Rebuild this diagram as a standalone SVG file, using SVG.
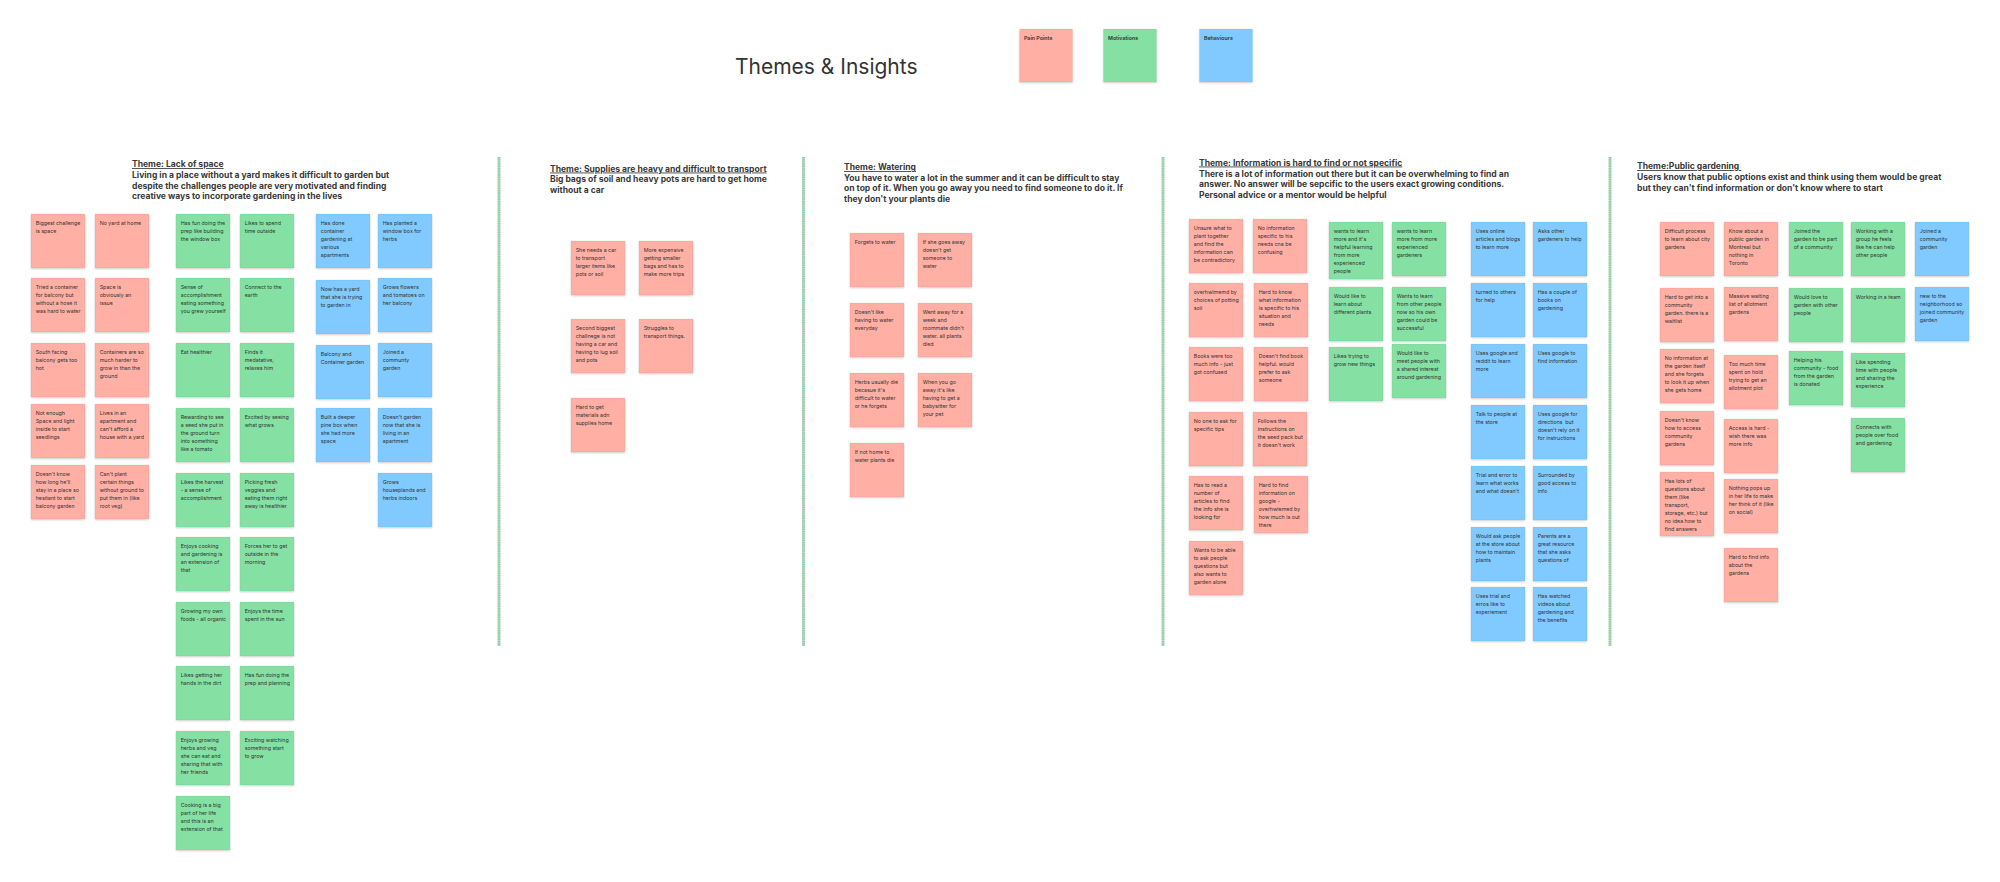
<svg xmlns="http://www.w3.org/2000/svg" width="2000" height="882" viewBox="0 0 2000 882">
<defs>
<filter id="sh" x="-10%" y="-10%" width="130%" height="130%"><feDropShadow dx="0" dy="1" stdDeviation="0.8" flood-color="#000" flood-opacity="0.18"/></filter>
<style>
.p{fill:#FFAFA3}.g{fill:#85E0A3}.b{fill:#80CAFF}
.n{filter:url(#sh);stroke:rgba(0,0,0,0.08);stroke-width:0.5}
.t{font-family:Inter,"Liberation Sans",sans-serif;font-size:5.3px;fill:#333}
.h{font-family:Inter,"Liberation Sans",sans-serif;font-size:8.55px;font-weight:700;fill:#3a3a3a}
.u{text-decoration:underline}
.lg{font-family:Inter,"Liberation Sans",sans-serif;font-size:5.3px;font-weight:600;fill:#333}
.sep{stroke:#7fd89a;stroke-width:2.6;stroke-dasharray:1.2 1}
.sepb{stroke:#c9cfcb;stroke-width:2.8}
</style>
</defs>
<rect width="2000" height="882" fill="#ffffff"/>
<text x="735" y="74" font-family="Inter,'Liberation Sans',sans-serif" font-size="21" fill="#333">Themes &amp; Insights</text>
<g id="legend-pain"><rect class="n p" x="1019.5" y="29" width="53" height="53"/><text class="lg" x="1024" y="39.5">Pain Points</text></g>
<g id="legend-motivations"><rect class="n g" x="1103.5" y="29" width="53" height="53"/><text class="lg" x="1108" y="39.5">Motivations</text></g>
<g id="legend-behaviours"><rect class="n b" x="1199.5" y="29" width="53" height="53"/><text class="lg" x="1204" y="39.5">Behaviours</text></g>
<g id="separators">
<line class="sepb" x1="499" y1="157" x2="499" y2="646"/><line class="sep" x1="499" y1="157" x2="499" y2="646"/>
<line class="sepb" x1="803.5" y1="157" x2="803.5" y2="646"/><line class="sep" x1="803.5" y1="157" x2="803.5" y2="646"/>
<line class="sepb" x1="1163" y1="157" x2="1163" y2="646"/><line class="sep" x1="1163" y1="157" x2="1163" y2="646"/>
<line class="sepb" x1="1610" y1="157" x2="1610" y2="646"/><line class="sep" x1="1610" y1="157" x2="1610" y2="646"/>
</g>
<g id="theme1-header"><text class="h"><tspan class="u" x="132" y="167">Theme: Lack of space</tspan><tspan x="132" y="178">Living in a place without a yard makes it difficult to garden but</tspan><tspan x="132" y="188.5">despite the challenges people are very motivated and finding</tspan><tspan x="132" y="199">creative ways to incorporate gardening in the lives</tspan></text></g>
<g id="theme2-header"><text class="h"><tspan class="u" x="550" y="171.5">Theme: Supplies are heavy and difficult to transport</tspan><tspan x="550" y="182.3">Big bags of soil and heavy pots are hard to get home</tspan><tspan x="550" y="193">without a car</tspan></text></g>
<g id="theme3-header"><text class="h"><tspan class="u" x="844" y="170">Theme: Watering</tspan><tspan x="844" y="180.5">You have to water a lot in the summer and it can be difficult to stay</tspan><tspan x="844" y="191">on top of it. When you go away you need to find someone to do it. If</tspan><tspan x="844" y="202">they don't your plants die</tspan></text></g>
<g id="theme4-header"><text class="h"><tspan class="u" x="1199" y="165.5">Theme: Information is hard to find or not specific</tspan><tspan x="1199" y="176.5">There is a lot of information out there but it can be overwhelming to find an</tspan><tspan x="1199" y="187">answer. No answer will be sepcific to the users exact growing conditions.</tspan><tspan x="1199" y="197.5">Personal advice or a mentor would be helpful</tspan></text></g>
<g id="theme5-header"><text class="h"><tspan class="u" x="1637" y="169">Theme:Public gardening </tspan><tspan x="1637" y="180">Users know that public options exist and think using them would be great</tspan><tspan x="1637" y="190.5">but they can't find information or don't know where to start</tspan></text></g>

<!-- Theme 1 notes -->
<g id="t1-p1" transform="translate(31,214)"><rect class="n p" width="54" height="54"/><text class="t"><tspan x="4.7" y="10.7">Biggest challenge</tspan><tspan x="4.7" dy="8">is space</tspan></text></g>
<g id="t1-p2" transform="translate(31,278)"><rect class="n p" width="54" height="54"/><text class="t"><tspan x="4.7" y="10.7">Tried a container</tspan><tspan x="4.7" dy="8">for balcony but</tspan><tspan x="4.7" dy="8">without a hose it</tspan><tspan x="4.7" dy="8">was hard to water</tspan></text></g>
<g id="t1-p3" transform="translate(31,343)"><rect class="n p" width="54" height="54"/><text class="t"><tspan x="4.7" y="10.7">South facing</tspan><tspan x="4.7" dy="8">balcony gets too</tspan><tspan x="4.7" dy="8">hot</tspan></text></g>
<g id="t1-p4" transform="translate(31,404)"><rect class="n p" width="54" height="54"/><text class="t"><tspan x="4.7" y="10.7">Not enough</tspan><tspan x="4.7" dy="8">Space and light</tspan><tspan x="4.7" dy="8">inside to start</tspan><tspan x="4.7" dy="8">seedlings</tspan></text></g>
<g id="t1-p5" transform="translate(31,465)"><rect class="n p" width="54" height="54"/><text class="t"><tspan x="4.7" y="10.7">Doesn't know</tspan><tspan x="4.7" dy="8">how long he'll</tspan><tspan x="4.7" dy="8">stay in a place so</tspan><tspan x="4.7" dy="8">hesitant to start</tspan><tspan x="4.7" dy="8">balcony garden</tspan></text></g>
<g id="t1-p6" transform="translate(95,214)"><rect class="n p" width="54" height="54"/><text class="t"><tspan x="4.7" y="10.7">No yard at home</tspan></text></g>
<g id="t1-p7" transform="translate(95,278)"><rect class="n p" width="54" height="54"/><text class="t"><tspan x="4.7" y="10.7">Space is</tspan><tspan x="4.7" dy="8">obviously an</tspan><tspan x="4.7" dy="8">issue</tspan></text></g>
<g id="t1-p8" transform="translate(95,343)"><rect class="n p" width="54" height="54"/><text class="t"><tspan x="4.7" y="10.7">Containers are so</tspan><tspan x="4.7" dy="8">much harder to</tspan><tspan x="4.7" dy="8">grow in than the</tspan><tspan x="4.7" dy="8">ground</tspan></text></g>
<g id="t1-p9" transform="translate(95,404)"><rect class="n p" width="54" height="54"/><text class="t"><tspan x="4.7" y="10.7">Lives in an</tspan><tspan x="4.7" dy="8">apartment and</tspan><tspan x="4.7" dy="8">can't afford a</tspan><tspan x="4.7" dy="8">house with a yard</tspan></text></g>
<g id="t1-p10" transform="translate(95,465)"><rect class="n p" width="54" height="54"/><text class="t"><tspan x="4.7" y="10.7">Can't plant</tspan><tspan x="4.7" dy="8">certain things</tspan><tspan x="4.7" dy="8">without ground to</tspan><tspan x="4.7" dy="8">put them in (like</tspan><tspan x="4.7" dy="8">root veg)</tspan></text></g>

<g id="t1-g1" transform="translate(176,214)"><rect class="n g" width="54" height="54"/><text class="t"><tspan x="4.7" y="10.7">Has fun doing the</tspan><tspan x="4.7" dy="8">prep like building</tspan><tspan x="4.7" dy="8">the window box</tspan></text></g>
<g id="t1-g2" transform="translate(176,278)"><rect class="n g" width="54" height="54"/><text class="t"><tspan x="4.7" y="10.7">Sense of</tspan><tspan x="4.7" dy="8">accomplishment</tspan><tspan x="4.7" dy="8">eating something</tspan><tspan x="4.7" dy="8">you grew yourself</tspan></text></g>
<g id="t1-g3" transform="translate(176,343)"><rect class="n g" width="54" height="54"/><text class="t"><tspan x="4.7" y="10.7">Eat healthier</tspan></text></g>
<g id="t1-g4" transform="translate(176,408)"><rect class="n g" width="54" height="54"/><text class="t"><tspan x="4.7" y="10.7">Rewarding to see</tspan><tspan x="4.7" dy="8">a seed she put in</tspan><tspan x="4.7" dy="8">the ground turn</tspan><tspan x="4.7" dy="8">into something</tspan><tspan x="4.7" dy="8">like a tomato</tspan></text></g>
<g id="t1-g5" transform="translate(176,473)"><rect class="n g" width="54" height="54"/><text class="t"><tspan x="4.7" y="10.7">Likes the harvest</tspan><tspan x="4.7" dy="8">- a sense of</tspan><tspan x="4.7" dy="8">accomplishment</tspan></text></g>
<g id="t1-g6" transform="translate(176,537)"><rect class="n g" width="54" height="54"/><text class="t"><tspan x="4.7" y="10.7">Enjoys cooking</tspan><tspan x="4.7" dy="8">and gardening is</tspan><tspan x="4.7" dy="8">an extension of</tspan><tspan x="4.7" dy="8">that</tspan></text></g>
<g id="t1-g7" transform="translate(176,602)"><rect class="n g" width="54" height="54"/><text class="t"><tspan x="4.7" y="10.7">Growing my own</tspan><tspan x="4.7" dy="8">foods - all organic</tspan></text></g>
<g id="t1-g8" transform="translate(176,666)"><rect class="n g" width="54" height="54"/><text class="t"><tspan x="4.7" y="10.7">Likes getting her</tspan><tspan x="4.7" dy="8">hands in the dirt</tspan></text></g>
<g id="t1-g9" transform="translate(176,731)"><rect class="n g" width="54" height="54"/><text class="t"><tspan x="4.7" y="10.7">Enjoys growing</tspan><tspan x="4.7" dy="8">herbs and veg</tspan><tspan x="4.7" dy="8">she can eat and</tspan><tspan x="4.7" dy="8">sharing that with</tspan><tspan x="4.7" dy="8">her friends</tspan></text></g>
<g id="t1-g10" transform="translate(176,796)"><rect class="n g" width="54" height="54"/><text class="t"><tspan x="4.7" y="10.7">Cooking is a big</tspan><tspan x="4.7" dy="8">part of her life</tspan><tspan x="4.7" dy="8">and this is an</tspan><tspan x="4.7" dy="8">extension of that</tspan></text></g>
<g id="t1-g11" transform="translate(240,214)"><rect class="n g" width="54" height="54"/><text class="t"><tspan x="4.7" y="10.7">Likes to spend</tspan><tspan x="4.7" dy="8">time outside</tspan></text></g>
<g id="t1-g12" transform="translate(240,278)"><rect class="n g" width="54" height="54"/><text class="t"><tspan x="4.7" y="10.7">Connect to the</tspan><tspan x="4.7" dy="8">earth</tspan></text></g>
<g id="t1-g13" transform="translate(240,343)"><rect class="n g" width="54" height="54"/><text class="t"><tspan x="4.7" y="10.7">Finds it</tspan><tspan x="4.7" dy="8">medatative,</tspan><tspan x="4.7" dy="8">relaxes him</tspan></text></g>
<g id="t1-g14" transform="translate(240,408)"><rect class="n g" width="54" height="54"/><text class="t"><tspan x="4.7" y="10.7">Excited by seeing</tspan><tspan x="4.7" dy="8">what grows</tspan></text></g>
<g id="t1-g15" transform="translate(240,473)"><rect class="n g" width="54" height="54"/><text class="t"><tspan x="4.7" y="10.7">Picking fresh</tspan><tspan x="4.7" dy="8">veggies and</tspan><tspan x="4.7" dy="8">eating them right</tspan><tspan x="4.7" dy="8">away is healthier</tspan></text></g>
<g id="t1-g16" transform="translate(240,537)"><rect class="n g" width="54" height="54"/><text class="t"><tspan x="4.7" y="10.7">Forces her to get</tspan><tspan x="4.7" dy="8">outside in the</tspan><tspan x="4.7" dy="8">morning</tspan></text></g>
<g id="t1-g17" transform="translate(240,602)"><rect class="n g" width="54" height="54"/><text class="t"><tspan x="4.7" y="10.7">Enjoys the time</tspan><tspan x="4.7" dy="8">spent in the sun</tspan></text></g>
<g id="t1-g18" transform="translate(240,666)"><rect class="n g" width="54" height="54"/><text class="t"><tspan x="4.7" y="10.7">Has fun doing the</tspan><tspan x="4.7" dy="8">prep and planning</tspan></text></g>
<g id="t1-g19" transform="translate(240,731)"><rect class="n g" width="54" height="54"/><text class="t"><tspan x="4.7" y="10.7">Exciting watching</tspan><tspan x="4.7" dy="8">something start</tspan><tspan x="4.7" dy="8">to grow</tspan></text></g>

<g id="t1-b1" transform="translate(316,214)"><rect class="n b" width="54" height="54"/><text class="t"><tspan x="4.7" y="10.7">Has done</tspan><tspan x="4.7" dy="8">container</tspan><tspan x="4.7" dy="8">gardening at</tspan><tspan x="4.7" dy="8">various</tspan><tspan x="4.7" dy="8">apartments</tspan></text></g>
<g id="t1-b2" transform="translate(316,280)"><rect class="n b" width="54" height="54"/><text class="t"><tspan x="4.7" y="10.7">Now has a yard</tspan><tspan x="4.7" dy="8">that she is trying</tspan><tspan x="4.7" dy="8">to garden in</tspan></text></g>
<g id="t1-b3" transform="translate(316,345)"><rect class="n b" width="54" height="54"/><text class="t"><tspan x="4.7" y="10.7">Balcony and</tspan><tspan x="4.7" dy="8">Container garden</tspan></text></g>
<g id="t1-b4" transform="translate(316,408)"><rect class="n b" width="54" height="54"/><text class="t"><tspan x="4.7" y="10.7">Built a deeper</tspan><tspan x="4.7" dy="8">pine box when</tspan><tspan x="4.7" dy="8">she had more</tspan><tspan x="4.7" dy="8">space</tspan></text></g>
<g id="t1-b5" transform="translate(378,214)"><rect class="n b" width="54" height="54"/><text class="t"><tspan x="4.7" y="10.7">Has planted a</tspan><tspan x="4.7" dy="8">window box for</tspan><tspan x="4.7" dy="8">herbs</tspan></text></g>
<g id="t1-b6" transform="translate(378,278)"><rect class="n b" width="54" height="54"/><text class="t"><tspan x="4.7" y="10.7">Grows flowers</tspan><tspan x="4.7" dy="8">and tomatoes on</tspan><tspan x="4.7" dy="8">her balcony</tspan></text></g>
<g id="t1-b7" transform="translate(378,343)"><rect class="n b" width="54" height="54"/><text class="t"><tspan x="4.7" y="10.7">Joined a</tspan><tspan x="4.7" dy="8">communty</tspan><tspan x="4.7" dy="8">garden</tspan></text></g>
<g id="t1-b8" transform="translate(378,408)"><rect class="n b" width="54" height="54"/><text class="t"><tspan x="4.7" y="10.7">Doesn't garden</tspan><tspan x="4.7" dy="8">now that she is</tspan><tspan x="4.7" dy="8">living in an</tspan><tspan x="4.7" dy="8">apartment</tspan></text></g>
<g id="t1-b9" transform="translate(378,473)"><rect class="n b" width="54" height="54"/><text class="t"><tspan x="4.7" y="10.7">Grows</tspan><tspan x="4.7" dy="8">houseplands and</tspan><tspan x="4.7" dy="8">herbs indoors</tspan></text></g>

<!-- Theme 2 -->
<g id="t2-p1" transform="translate(571,241)"><rect class="n p" width="54" height="54"/><text class="t"><tspan x="4.7" y="10.7">She needs a car</tspan><tspan x="4.7" dy="8">to transport</tspan><tspan x="4.7" dy="8">larger items like</tspan><tspan x="4.7" dy="8">pots or soil</tspan></text></g>
<g id="t2-p2" transform="translate(639,241)"><rect class="n p" width="54" height="54"/><text class="t"><tspan x="4.7" y="10.7">More expensive</tspan><tspan x="4.7" dy="8">getting smaller</tspan><tspan x="4.7" dy="8">bags and has to</tspan><tspan x="4.7" dy="8">make more trips</tspan></text></g>
<g id="t2-p3" transform="translate(571,319)"><rect class="n p" width="54" height="54"/><text class="t"><tspan x="4.7" y="10.7">Second biggest</tspan><tspan x="4.7" dy="8">challnege is not</tspan><tspan x="4.7" dy="8">having a car and</tspan><tspan x="4.7" dy="8">having to lug soil</tspan><tspan x="4.7" dy="8">and pots</tspan></text></g>
<g id="t2-p4" transform="translate(639,319)"><rect class="n p" width="54" height="54"/><text class="t"><tspan x="4.7" y="10.7">Struggles to</tspan><tspan x="4.7" dy="8">transport things.</tspan></text></g>
<g id="t2-p5" transform="translate(571,398)"><rect class="n p" width="54" height="54"/><text class="t"><tspan x="4.7" y="10.7">Hard to get</tspan><tspan x="4.7" dy="8">materials adn</tspan><tspan x="4.7" dy="8">supplies home</tspan></text></g>

<!-- Theme 3 -->
<g id="t3-p1" transform="translate(850,233)"><rect class="n p" width="54" height="54"/><text class="t"><tspan x="4.7" y="10.7">Forgets to water</tspan></text></g>
<g id="t3-p2" transform="translate(918,233)"><rect class="n p" width="54" height="54"/><text class="t"><tspan x="4.7" y="10.7">If she goes away</tspan><tspan x="4.7" dy="8">doesn't get</tspan><tspan x="4.7" dy="8">someone to</tspan><tspan x="4.7" dy="8">water</tspan></text></g>
<g id="t3-p3" transform="translate(850,303)"><rect class="n p" width="54" height="54"/><text class="t"><tspan x="4.7" y="10.7">Doesn't like</tspan><tspan x="4.7" dy="8">having to water</tspan><tspan x="4.7" dy="8">everyday</tspan></text></g>
<g id="t3-p4" transform="translate(918,303)"><rect class="n p" width="54" height="54"/><text class="t"><tspan x="4.7" y="10.7">Went away for a</tspan><tspan x="4.7" dy="8">week and</tspan><tspan x="4.7" dy="8">roommate didn't</tspan><tspan x="4.7" dy="8">water. all plants</tspan><tspan x="4.7" dy="8">died</tspan></text></g>
<g id="t3-p5" transform="translate(850,373)"><rect class="n p" width="54" height="54"/><text class="t"><tspan x="4.7" y="10.7">Herbs usually die</tspan><tspan x="4.7" dy="8">becasue it's</tspan><tspan x="4.7" dy="8">difficult to water</tspan><tspan x="4.7" dy="8">or he forgets</tspan></text></g>
<g id="t3-p6" transform="translate(918,373)"><rect class="n p" width="54" height="54"/><text class="t"><tspan x="4.7" y="10.7">When you go</tspan><tspan x="4.7" dy="8">away it's like</tspan><tspan x="4.7" dy="8">having to get a</tspan><tspan x="4.7" dy="8">babysitter for</tspan><tspan x="4.7" dy="8">your pet</tspan></text></g>
<g id="t3-p7" transform="translate(850,443)"><rect class="n p" width="54" height="54"/><text class="t"><tspan x="4.7" y="10.7">If not home to</tspan><tspan x="4.7" dy="8">water plants die</tspan></text></g>

<!-- Theme 4 -->
<g id="t4-p1" transform="translate(1189,219)"><rect class="n p" width="54" height="54"/><text class="t"><tspan x="4.7" y="10.7">Unsure what to</tspan><tspan x="4.7" dy="8">plant together</tspan><tspan x="4.7" dy="8">and find the</tspan><tspan x="4.7" dy="8">information can</tspan><tspan x="4.7" dy="8">be contradictory</tspan></text></g>
<g id="t4-p2" transform="translate(1253,219)"><rect class="n p" width="54" height="54"/><text class="t"><tspan x="4.7" y="10.7">No information</tspan><tspan x="4.7" dy="8">specific to his</tspan><tspan x="4.7" dy="8">needs cna be</tspan><tspan x="4.7" dy="8">confusing</tspan></text></g>
<g id="t4-p3" transform="translate(1189,283)"><rect class="n p" width="54" height="54"/><text class="t"><tspan x="4.7" y="10.7">overhwlmemd by</tspan><tspan x="4.7" dy="8">choices of potting</tspan><tspan x="4.7" dy="8">soil</tspan></text></g>
<g id="t4-p4" transform="translate(1254,283)"><rect class="n p" width="54" height="54"/><text class="t"><tspan x="4.7" y="10.7">Hard to know</tspan><tspan x="4.7" dy="8">what information</tspan><tspan x="4.7" dy="8">is specific to his</tspan><tspan x="4.7" dy="8">situation and</tspan><tspan x="4.7" dy="8">needs</tspan></text></g>
<g id="t4-p5" transform="translate(1189,347)"><rect class="n p" width="54" height="54"/><text class="t"><tspan x="4.7" y="10.7">Books were too</tspan><tspan x="4.7" dy="8">much info - just</tspan><tspan x="4.7" dy="8">got confused</tspan></text></g>
<g id="t4-p6" transform="translate(1254,347)"><rect class="n p" width="54" height="54"/><text class="t"><tspan x="4.7" y="10.7">Doesn't find book</tspan><tspan x="4.7" dy="8">helpful. would</tspan><tspan x="4.7" dy="8">prefer to ask</tspan><tspan x="4.7" dy="8">someone</tspan></text></g>
<g id="t4-p7" transform="translate(1189,412)"><rect class="n p" width="54" height="54"/><text class="t"><tspan x="4.7" y="10.7">No one to ask for</tspan><tspan x="4.7" dy="8">specific tips</tspan></text></g>
<g id="t4-p8" transform="translate(1253,412)"><rect class="n p" width="54" height="54"/><text class="t"><tspan x="4.7" y="10.7">Follows the</tspan><tspan x="4.7" dy="8">instructions on</tspan><tspan x="4.7" dy="8">the seed pack but</tspan><tspan x="4.7" dy="8">it doesn't work</tspan></text></g>
<g id="t4-p9" transform="translate(1189,476)"><rect class="n p" width="54" height="54"/><text class="t"><tspan x="4.7" y="10.7">Has to read a</tspan><tspan x="4.7" dy="8">number of</tspan><tspan x="4.7" dy="8">articles to find</tspan><tspan x="4.7" dy="8">the info she is</tspan><tspan x="4.7" dy="8">looking for</tspan></text></g>
<g id="t4-p10" transform="translate(1254,476)"><rect class="n p" width="54" height="57"/><text class="t"><tspan x="4.7" y="10.7">Hard to find</tspan><tspan x="4.7" dy="8">information on</tspan><tspan x="4.7" dy="8">google -</tspan><tspan x="4.7" dy="8">overhwlemed by</tspan><tspan x="4.7" dy="8">how much is out</tspan><tspan x="4.7" dy="8">there</tspan></text></g>
<g id="t4-p11" transform="translate(1189,541)"><rect class="n p" width="54" height="54"/><text class="t"><tspan x="4.7" y="10.7">Wants to be able</tspan><tspan x="4.7" dy="8">to ask people</tspan><tspan x="4.7" dy="8">questions but</tspan><tspan x="4.7" dy="8">also wants to</tspan><tspan x="4.7" dy="8">garden alone</tspan></text></g>

<g id="t4-g1" transform="translate(1329,222)"><rect class="n g" width="54" height="57"/><text class="t"><tspan x="4.7" y="10.7">wants to learn</tspan><tspan x="4.7" dy="8">more and it's</tspan><tspan x="4.7" dy="8">helpful learning</tspan><tspan x="4.7" dy="8">from more</tspan><tspan x="4.7" dy="8">experienced</tspan><tspan x="4.7" dy="8">people</tspan></text></g>
<g id="t4-g2" transform="translate(1329,287)"><rect class="n g" width="54" height="54"/><text class="t"><tspan x="4.7" y="10.7">Would like to</tspan><tspan x="4.7" dy="8">learn about</tspan><tspan x="4.7" dy="8">different plants</tspan></text></g>
<g id="t4-g3" transform="translate(1329,347)"><rect class="n g" width="54" height="54"/><text class="t"><tspan x="4.7" y="10.7">Likes trying to</tspan><tspan x="4.7" dy="8">grow new things</tspan></text></g>
<g id="t4-g4" transform="translate(1392,222)"><rect class="n g" width="54" height="54"/><text class="t"><tspan x="4.7" y="10.7">wants to learn</tspan><tspan x="4.7" dy="8">more from more</tspan><tspan x="4.7" dy="8">experienced</tspan><tspan x="4.7" dy="8">gardeners</tspan></text></g>
<g id="t4-g5" transform="translate(1392,287)"><rect class="n g" width="54" height="54"/><text class="t"><tspan x="4.7" y="10.7">Wants to learn</tspan><tspan x="4.7" dy="8">from other people</tspan><tspan x="4.7" dy="8">now so his own</tspan><tspan x="4.7" dy="8">garden could be</tspan><tspan x="4.7" dy="8">successful</tspan></text></g>
<g id="t4-g6" transform="translate(1392,344)"><rect class="n g" width="54" height="54"/><text class="t"><tspan x="4.7" y="10.7">Would like to</tspan><tspan x="4.7" dy="8">meet people with</tspan><tspan x="4.7" dy="8">a shared interest</tspan><tspan x="4.7" dy="8">around gardening</tspan></text></g>

<g id="t4-b1" transform="translate(1471,222)"><rect class="n b" width="54" height="54"/><text class="t"><tspan x="4.7" y="10.7">Uses online</tspan><tspan x="4.7" dy="8">articles and blogs</tspan><tspan x="4.7" dy="8">to learn more</tspan></text></g>
<g id="t4-b2" transform="translate(1471,283)"><rect class="n b" width="54" height="54"/><text class="t"><tspan x="4.7" y="10.7">turned to others</tspan><tspan x="4.7" dy="8">for help</tspan></text></g>
<g id="t4-b3" transform="translate(1471,344)"><rect class="n b" width="54" height="54"/><text class="t"><tspan x="4.7" y="10.7">Uses google and</tspan><tspan x="4.7" dy="8">reddit to learn</tspan><tspan x="4.7" dy="8">more</tspan></text></g>
<g id="t4-b4" transform="translate(1471,405)"><rect class="n b" width="54" height="54"/><text class="t"><tspan x="4.7" y="10.7">Talk to people at</tspan><tspan x="4.7" dy="8">the store</tspan></text></g>
<g id="t4-b5" transform="translate(1471,466)"><rect class="n b" width="54" height="54"/><text class="t"><tspan x="4.7" y="10.7">Trial and error to</tspan><tspan x="4.7" dy="8">learn what works</tspan><tspan x="4.7" dy="8">and what doesn't</tspan></text></g>
<g id="t4-b6" transform="translate(1471,527)"><rect class="n b" width="54" height="54"/><text class="t"><tspan x="4.7" y="10.7">Would ask people</tspan><tspan x="4.7" dy="8">at the store about</tspan><tspan x="4.7" dy="8">how to maintain</tspan><tspan x="4.7" dy="8">plants</tspan></text></g>
<g id="t4-b7" transform="translate(1471,587)"><rect class="n b" width="54" height="54"/><text class="t"><tspan x="4.7" y="10.7">Uses trial and</tspan><tspan x="4.7" dy="8">erros like to</tspan><tspan x="4.7" dy="8">experiement</tspan></text></g>
<g id="t4-b8" transform="translate(1533,222)"><rect class="n b" width="54" height="54"/><text class="t"><tspan x="4.7" y="10.7">Asks other</tspan><tspan x="4.7" dy="8">gardeners to help</tspan></text></g>
<g id="t4-b9" transform="translate(1533,283)"><rect class="n b" width="54" height="54"/><text class="t"><tspan x="4.7" y="10.7">Has a couple of</tspan><tspan x="4.7" dy="8">books on</tspan><tspan x="4.7" dy="8">gardening</tspan></text></g>
<g id="t4-b10" transform="translate(1533,344)"><rect class="n b" width="54" height="54"/><text class="t"><tspan x="4.7" y="10.7">Uses google to</tspan><tspan x="4.7" dy="8">find information</tspan></text></g>
<g id="t4-b11" transform="translate(1533,405)"><rect class="n b" width="54" height="54"/><text class="t"><tspan x="4.7" y="10.7">Uses google for</tspan><tspan x="4.7" dy="8" xml:space="preserve">directions  but</tspan><tspan x="4.7" dy="8">doesn't rely on it</tspan><tspan x="4.7" dy="8">for instructions</tspan></text></g>
<g id="t4-b12" transform="translate(1533,466)"><rect class="n b" width="54" height="54"/><text class="t"><tspan x="4.7" y="10.7">Surrounded by</tspan><tspan x="4.7" dy="8">good access to</tspan><tspan x="4.7" dy="8">info</tspan></text></g>
<g id="t4-b13" transform="translate(1533,527)"><rect class="n b" width="54" height="54"/><text class="t"><tspan x="4.7" y="10.7">Parents are a</tspan><tspan x="4.7" dy="8">great resource</tspan><tspan x="4.7" dy="8">that she asks</tspan><tspan x="4.7" dy="8">questions of</tspan></text></g>
<g id="t4-b14" transform="translate(1533,587)"><rect class="n b" width="54" height="54"/><text class="t"><tspan x="4.7" y="10.7">Has watched</tspan><tspan x="4.7" dy="8">videos about</tspan><tspan x="4.7" dy="8">gardening and</tspan><tspan x="4.7" dy="8">the benefits</tspan></text></g>

<!-- Theme 5 -->
<g id="t5-p1" transform="translate(1660,222)"><rect class="n p" width="54" height="54"/><text class="t"><tspan x="4.7" y="10.7">Difficult process</tspan><tspan x="4.7" dy="8">to learn about city</tspan><tspan x="4.7" dy="8">gardens</tspan></text></g>
<g id="t5-p2" transform="translate(1660,288)"><rect class="n p" width="54" height="54"/><text class="t"><tspan x="4.7" y="10.7">Hard to get into a</tspan><tspan x="4.7" dy="8">community</tspan><tspan x="4.7" dy="8">garden. there is a</tspan><tspan x="4.7" dy="8">waitlist</tspan></text></g>
<g id="t5-p3" transform="translate(1660,349)"><rect class="n p" width="54" height="54"/><text class="t"><tspan x="4.7" y="10.7">No information at</tspan><tspan x="4.7" dy="8">the garden itself</tspan><tspan x="4.7" dy="8">and she forgets</tspan><tspan x="4.7" dy="8">to look it up when</tspan><tspan x="4.7" dy="8">she gets home</tspan></text></g>
<g id="t5-p4" transform="translate(1660,411)"><rect class="n p" width="54" height="54"/><text class="t"><tspan x="4.7" y="10.7">Doesn't know</tspan><tspan x="4.7" dy="8">how to access</tspan><tspan x="4.7" dy="8">community</tspan><tspan x="4.7" dy="8">gardens</tspan></text></g>
<g id="t5-p5" transform="translate(1660,472)"><rect class="n p" width="54" height="64"/><text class="t"><tspan x="4.7" y="10.7">Has lots of</tspan><tspan x="4.7" dy="8">questions about</tspan><tspan x="4.7" dy="8">them (like</tspan><tspan x="4.7" dy="8">transport,</tspan><tspan x="4.7" dy="8">storage, etc.) but</tspan><tspan x="4.7" dy="8">no idea how to</tspan><tspan x="4.7" dy="8">find answers</tspan></text></g>
<g id="t5-p6" transform="translate(1724,222)"><rect class="n p" width="54" height="54"/><text class="t"><tspan x="4.7" y="10.7">Know about a</tspan><tspan x="4.7" dy="8">public garden in</tspan><tspan x="4.7" dy="8">Montreal but</tspan><tspan x="4.7" dy="8">nothing in</tspan><tspan x="4.7" dy="8">Toronto</tspan></text></g>
<g id="t5-p7" transform="translate(1724,287)"><rect class="n p" width="54" height="54"/><text class="t"><tspan x="4.7" y="10.7">Massive waiting</tspan><tspan x="4.7" dy="8">list of allotment</tspan><tspan x="4.7" dy="8">gardens</tspan></text></g>
<g id="t5-p8" transform="translate(1724,355)"><rect class="n p" width="54" height="54"/><text class="t"><tspan x="4.7" y="10.7">Too much time</tspan><tspan x="4.7" dy="8">spent on hold</tspan><tspan x="4.7" dy="8">trying to get an</tspan><tspan x="4.7" dy="8">allotment plot</tspan></text></g>
<g id="t5-p9" transform="translate(1724,419)"><rect class="n p" width="54" height="54"/><text class="t"><tspan x="4.7" y="10.7">Access is hard -</tspan><tspan x="4.7" dy="8">wish there was</tspan><tspan x="4.7" dy="8">more info</tspan></text></g>
<g id="t5-p10" transform="translate(1724,479)"><rect class="n p" width="54" height="54"/><text class="t"><tspan x="4.7" y="10.7">Nothing pops up</tspan><tspan x="4.7" dy="8">in her life to make</tspan><tspan x="4.7" dy="8">her think of it (like</tspan><tspan x="4.7" dy="8">on social)</tspan></text></g>
<g id="t5-p11" transform="translate(1724,548)"><rect class="n p" width="54" height="54"/><text class="t"><tspan x="4.7" y="10.7">Hard to find info</tspan><tspan x="4.7" dy="8">about the</tspan><tspan x="4.7" dy="8">gardens</tspan></text></g>
<g id="t5-g1" transform="translate(1789,222)"><rect class="n g" width="54" height="54"/><text class="t"><tspan x="4.7" y="10.7">Joined the</tspan><tspan x="4.7" dy="8">garden to be part</tspan><tspan x="4.7" dy="8">of a community</tspan></text></g>
<g id="t5-g2" transform="translate(1789,288)"><rect class="n g" width="54" height="54"/><text class="t"><tspan x="4.7" y="10.7">Would love to</tspan><tspan x="4.7" dy="8">garden with other</tspan><tspan x="4.7" dy="8">people</tspan></text></g>
<g id="t5-g3" transform="translate(1789,351)"><rect class="n g" width="54" height="54"/><text class="t"><tspan x="4.7" y="10.7">Helping his</tspan><tspan x="4.7" dy="8">community - food</tspan><tspan x="4.7" dy="8">from the garden</tspan><tspan x="4.7" dy="8">is donated</tspan></text></g>
<g id="t5-g4" transform="translate(1851,222)"><rect class="n g" width="54" height="54"/><text class="t"><tspan x="4.7" y="10.7">Working with a</tspan><tspan x="4.7" dy="8">group he feels</tspan><tspan x="4.7" dy="8">like he can help</tspan><tspan x="4.7" dy="8">other people</tspan></text></g>
<g id="t5-g5" transform="translate(1851,288)"><rect class="n g" width="54" height="54"/><text class="t"><tspan x="4.7" y="10.7">Working in a team</tspan></text></g>
<g id="t5-g6" transform="translate(1851,353)"><rect class="n g" width="54" height="54"/><text class="t"><tspan x="4.7" y="10.7">Like spending</tspan><tspan x="4.7" dy="8">time with people</tspan><tspan x="4.7" dy="8">and sharing the</tspan><tspan x="4.7" dy="8">experience</tspan></text></g>
<g id="t5-g7" transform="translate(1851,418)"><rect class="n g" width="54" height="54"/><text class="t"><tspan x="4.7" y="10.7">Connects with</tspan><tspan x="4.7" dy="8">people over food</tspan><tspan x="4.7" dy="8">and gardening</tspan></text></g>
<g id="t5-b1" transform="translate(1915,222)"><rect class="n b" width="54" height="54"/><text class="t"><tspan x="4.7" y="10.7">Joined a</tspan><tspan x="4.7" dy="8">community</tspan><tspan x="4.7" dy="8">garden</tspan></text></g>
<g id="t5-b2" transform="translate(1915,287)"><rect class="n b" width="54" height="54"/><text class="t"><tspan x="4.7" y="10.7">new to the</tspan><tspan x="4.7" dy="8">neighborhood so</tspan><tspan x="4.7" dy="8">joined community</tspan><tspan x="4.7" dy="8">garden</tspan></text></g>
</svg>
